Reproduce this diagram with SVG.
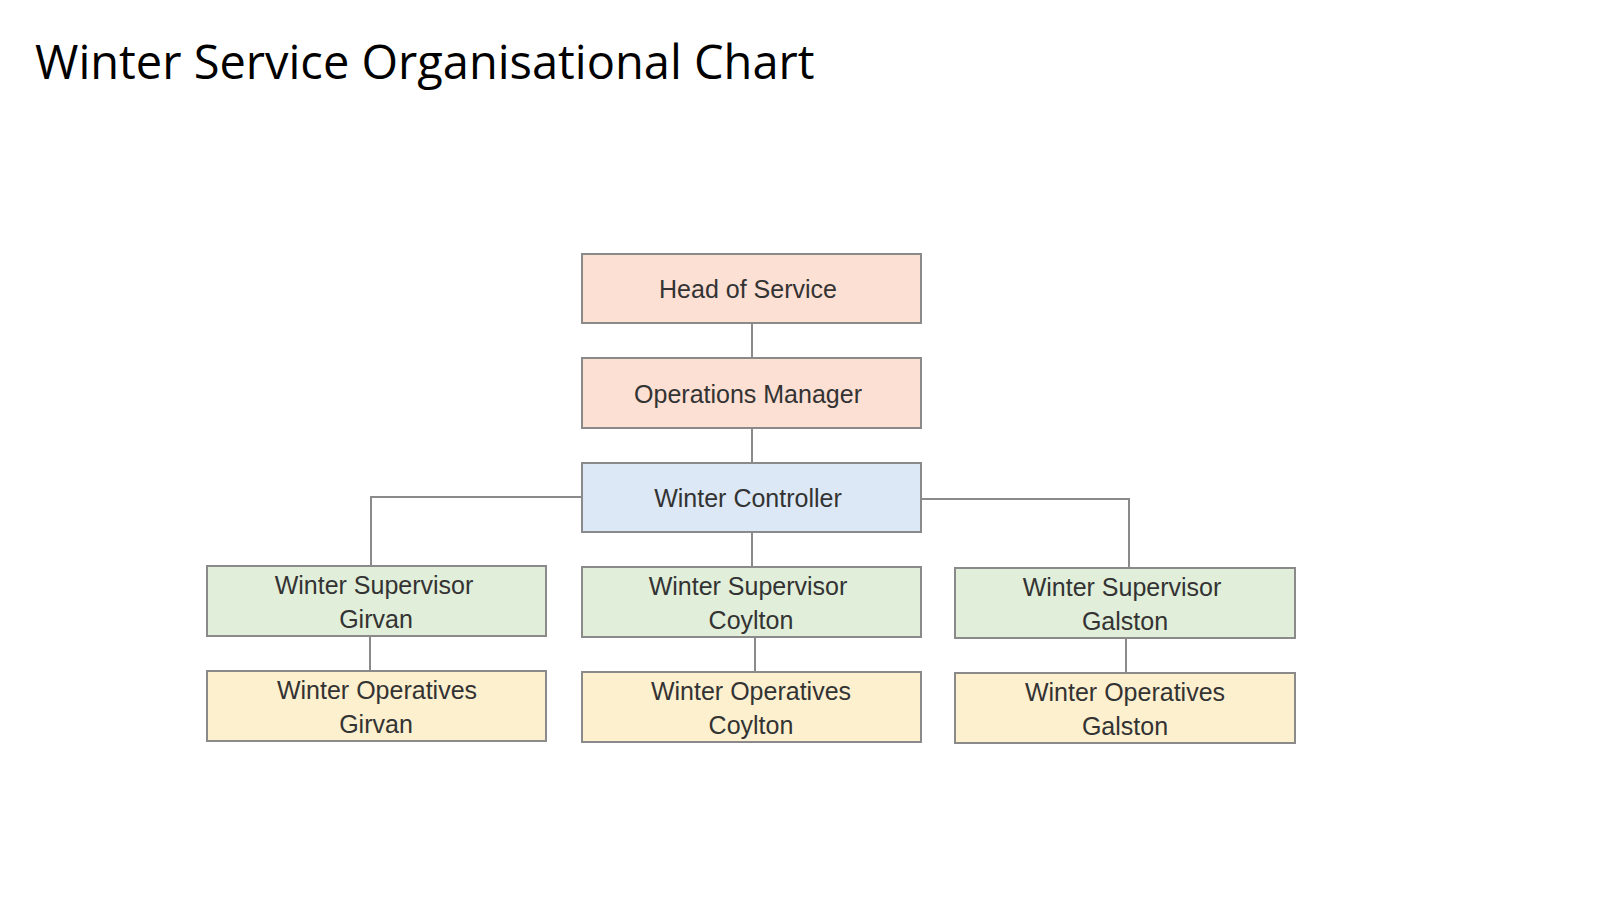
<svg xmlns="http://www.w3.org/2000/svg" width="1600" height="900" viewBox="0 0 1600 900">
<style>
.b{stroke:#8a8a8a;stroke-width:2}
.t{font-family:"Liberation Sans",Arial,sans-serif;font-size:25px;fill:#333;text-anchor:middle}
.c{stroke:#8a8a8a;stroke-width:2;fill:none}
.r{fill:#fce0d3}.bl{fill:#dce8f5}.g{fill:#e1eed9}.y{fill:#fdf0cf}
</style>
<rect width="1600" height="900" fill="#fff"/>
<text x="35" y="79" font-family="'Open Sans',sans-serif" font-size="47" fill="#000">Winter Service Organisational Chart</text>
<g id="connectors">
<path class="c" d="M752 323V358M752 428V463M752 532V566M582 497H371V566M921 499H1129V567M370 637V671M755 637V671M1126 638V672"/>
</g>
<g id="head"><rect class="b r" x="582" y="254" width="339" height="69"/><text class="t" x="748" y="298">Head of Service</text></g>
<g id="ops"><rect class="b r" x="582" y="358" width="339" height="70"/><text class="t" x="748" y="403">Operations Manager</text></g>
<g id="ctrl"><rect class="b bl" x="582" y="463" width="339" height="69"/><text class="t" x="748" y="507">Winter Controller</text></g>
<g id="sup1"><rect class="b g" x="207" y="566" width="339" height="70"/><text class="t" x="374" y="594">Winter Supervisor</text><text class="t" x="376" y="628">Girvan</text></g>
<g id="sup2"><rect class="b g" x="582" y="567" width="339" height="70"/><text class="t" x="748" y="595">Winter Supervisor</text><text class="t" x="751" y="629">Coylton</text></g>
<g id="sup3"><rect class="b g" x="955" y="568" width="340" height="70"/><text class="t" x="1122" y="596">Winter Supervisor</text><text class="t" x="1125" y="630">Galston</text></g>
<g id="op1"><rect class="b y" x="207" y="671" width="339" height="70"/><text class="t" x="377" y="699">Winter Operatives</text><text class="t" x="376" y="733">Girvan</text></g>
<g id="op2"><rect class="b y" x="582" y="672" width="339" height="70"/><text class="t" x="751" y="700">Winter Operatives</text><text class="t" x="751" y="734">Coylton</text></g>
<g id="op3"><rect class="b y" x="955" y="673" width="340" height="70"/><text class="t" x="1125" y="701">Winter Operatives</text><text class="t" x="1125" y="735">Galston</text></g>
</svg>
